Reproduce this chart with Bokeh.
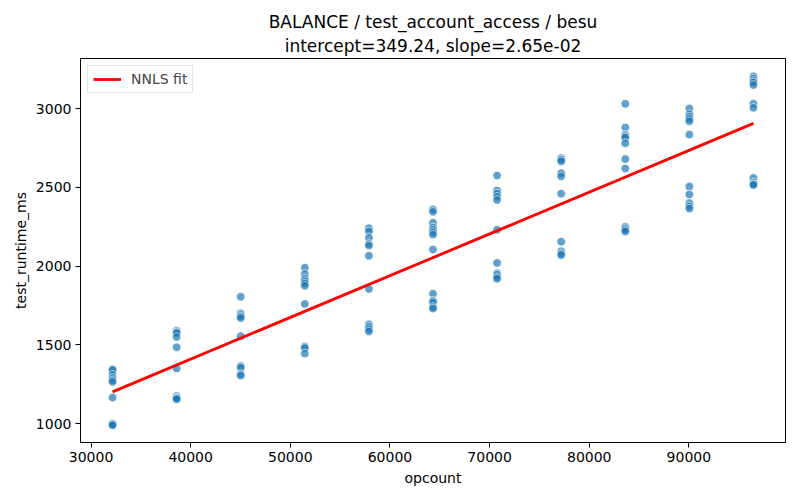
from bokeh.plotting import figure
from bokeh.models import Range1d, FixedTicker, Title, Legend, LegendItem, NumeralTickFormatter, ColumnDataSource
from bokeh.embed import file_html
from bokeh.resources import INLINE

opcounts = [32160, 38592, 45024, 51456, 57888, 64320, 70752, 77184, 83616, 90048, 96480]
runtimes = [
    [1345, 1340, 1310, 1290, 1275, 1265, 1165, 1000, 995, 990],
    [1590, 1580, 1575, 1550, 1485, 1350, 1175, 1165, 1160, 1155],
    [1805, 1700, 1690, 1680, 1670, 1555, 1365, 1355, 1315, 1305],
    [1990, 1950, 1920, 1905, 1890, 1875, 1760, 1490, 1480, 1445],
    [2240, 2220, 2180, 2140, 2130, 2065, 1855, 1630, 1615, 1600, 1585],
    [2360, 2345, 2275, 2245, 2230, 2215, 2200, 2105, 1825, 1780, 1770, 1740, 1730],
    [2575, 2480, 2460, 2440, 2420, 2230, 2020, 1955, 1945, 1930, 1920],
    [2685, 2675, 2665, 2590, 2570, 2460, 2155, 2095, 2080, 2070],
    [3030, 2880, 2835, 2825, 2815, 2780, 2680, 2620, 2250, 2240, 2230, 2220],
    [3000, 2965, 2950, 2935, 2920, 2835, 2505, 2455, 2400, 2380, 2365],
    [3205, 3190, 3175, 3165, 3150, 3030, 3005, 2560, 2530, 2520, 2515],
]
intercept = 349.24
slope = 2.65e-02
x_ticks = [30000, 40000, 50000, 60000, 70000, 80000, 90000]
y_ticks = [1000, 1500, 2000, 2500, 3000]

xs, ys = [], []
for xo, col in zip(opcounts, runtimes):
    for v in col:
        xs.append(xo)
        ys.append(v)

FONT = "DejaVu Sans"

p = figure(width=792, height=492, output_backend="svg", toolbar_location=None,
           x_range=Range1d(28944, 99696), y_range=Range1d(880, 3318),
           min_border_left=80, min_border_right=7, min_border_top=58, min_border_bottom=50)

p.title.text = "BALANCE / test_account_access / besu"
p.title.align = "center"
p.title.text_font = FONT
p.title.text_font_size = "17px"
p.title.text_font_style = "normal"
p.title.text_color = "black"
p.title.standoff = 0
t2 = Title(text="intercept=349.24, slope=2.65e-02", align="center", standoff=5,
           text_font=FONT, text_font_size="17px", text_font_style="normal", text_color="black")
p.add_layout(t2, "above")

p.grid.visible = False
p.outline_line_color = "black"
p.outline_line_width = 1
p.background_fill_color = "white"
p.border_fill_color = "white"

for ax in (p.xaxis[0], p.yaxis[0]):
    ax.axis_line_color = "black"
    ax.major_tick_line_color = "black"
    ax.major_tick_out = 5
    ax.major_tick_in = 0
    ax.minor_tick_line_color = None
    ax.major_label_text_font = FONT
    ax.major_label_text_font_size = "14px"
    ax.major_label_text_color = "black"
    ax.axis_label_text_font = FONT
    ax.axis_label_text_font_size = "14px"
    ax.axis_label_text_font_style = "normal"
    ax.axis_label_text_color = "black"
    ax.major_label_standoff = 4
    ax.formatter = NumeralTickFormatter(format="0")

p.xaxis.ticker = FixedTicker(ticks=x_ticks)
p.yaxis.ticker = FixedTicker(ticks=y_ticks)
p.xaxis.axis_label = "opcount"
p.yaxis.axis_label = "test_runtime_ms"
p.xaxis.axis_label_standoff = 5
p.yaxis.axis_label_standoff = 4

src = ColumnDataSource(dict(x=xs, y=ys))
p.scatter("x", "y", source=src, size=8.5, fill_color="#1f77b4", fill_alpha=0.7,
          line_color="white", line_alpha=0.8, line_width=0.8)

x0, x1 = min(opcounts), max(opcounts)
fit = p.line([x0, x1], [intercept + slope * x0, intercept + slope * x1],
             line_color="red", line_width=2.8)

legend = Legend(items=[LegendItem(label="NNLS fit", renderers=[fit])], location="top_left")
legend.label_text_font = FONT
legend.label_text_font_size = "14px"
legend.margin = 7
legend.padding = 5
legend.spacing = 0
legend.glyph_width = 28
legend.glyph_height = 14
legend.label_standoff = 10
legend.border_line_color = "#cccccc"
legend.border_line_width = 1
legend.background_fill_alpha = 0.8
p.add_layout(legend, "center")

open("out.html", "w").write(file_html(p, INLINE))
